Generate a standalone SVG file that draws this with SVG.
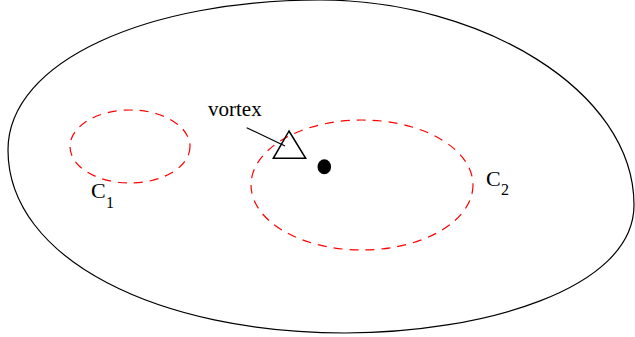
<svg xmlns="http://www.w3.org/2000/svg" width="635" height="337" viewBox="0 0 635 337">
<style>
.lbl{font-family:"Liberation Serif","Times New Roman",serif;fill:#000}
.loop{fill:none;stroke:#ff0000;stroke-width:1.2;stroke-dasharray:9 7}
</style>
<rect width="635" height="337" fill="#fff"/>
<g id="domain">
<path d="M 8,150 C 8,60 150,0 320,0 C 480,0 634,90 634,205 C 634,290 480,333 345,333 C 160,333 8,260 8,150 Z" fill="none" stroke="#000" stroke-width="1.2"/>
</g>
<g id="C1">
<ellipse class="loop" cx="130" cy="146.5" rx="60" ry="36.5"/>
<text class="lbl" x="91" y="198" font-size="22">C</text>
<text class="lbl" x="106" y="208" font-size="16">1</text>
</g>
<g id="C2">
<ellipse class="loop" cx="362" cy="185" rx="111" ry="65"/>
<text class="lbl" x="486" y="186" font-size="22">C</text>
<text class="lbl" x="501" y="195" font-size="16">2</text>
</g>
<g id="vortex">
<polygon points="289,131 273.3,158.3 305.7,158.3" fill="none" stroke="#000" stroke-width="1.5"/>
<text class="lbl" x="208" y="116" font-size="21">vortex</text>
</g>
<g id="point">
<ellipse cx="324.3" cy="166.7" rx="6.8" ry="7.5" fill="#000"/>
</g>
<g id="connectors">
<line x1="246.7" y1="127.7" x2="285" y2="146" stroke="#000" stroke-width="1.2"/>
</g>
</svg>
